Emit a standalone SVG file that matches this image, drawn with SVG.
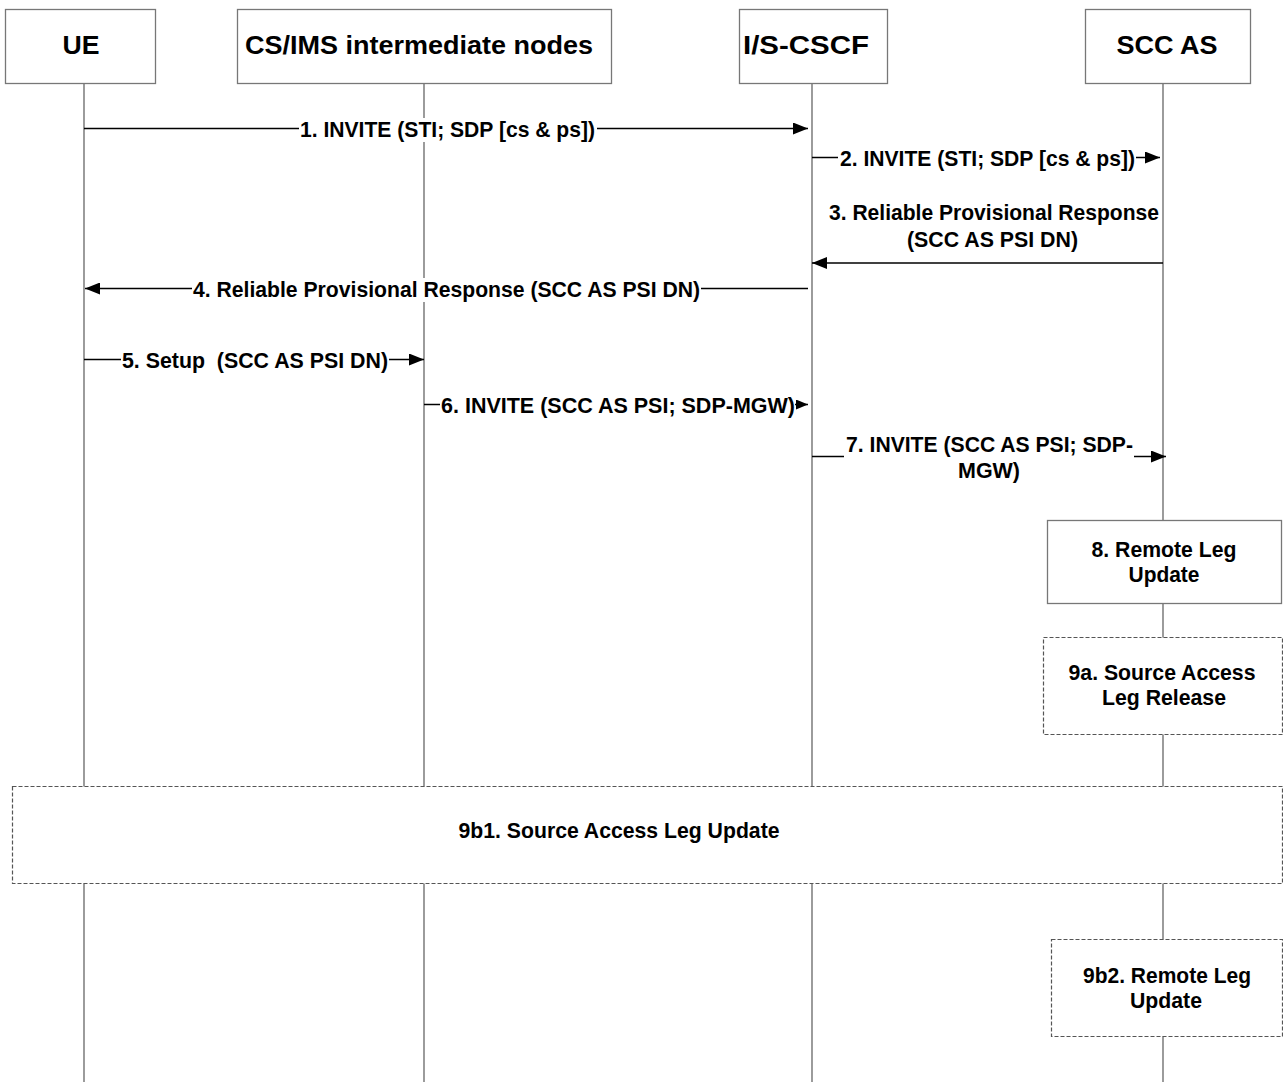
<svg xmlns="http://www.w3.org/2000/svg" width="1283" height="1082" viewBox="0 0 1283 1082">
<style>
.box{fill:#fff;stroke:#777;stroke-width:1.3}
.dbox{fill:#fff;stroke:#555;stroke-width:1.2;stroke-dasharray:4 2}
.life{stroke:#666;stroke-width:1.3;fill:none}
.msg{stroke:#000;stroke-width:1.5;fill:none}
.hd{font-family:"Liberation Sans",Arial,sans-serif;font-weight:bold;font-size:25px;fill:#000}
.t{font-family:"Liberation Sans",Arial,sans-serif;font-weight:bold;font-size:22px;fill:#000}
.bg{fill:#fff}
</style>
<defs>
<marker id="ah" viewBox="0 0 15 12" refX="15" refY="6" markerWidth="15" markerHeight="12" markerUnits="userSpaceOnUse" orient="auto">
<path d="M0,0 L15,6 L0,12 Z" fill="#000"/>
</marker>
<marker id="ahs" viewBox="0 0 12 10" refX="12" refY="5" markerWidth="12" markerHeight="10" markerUnits="userSpaceOnUse" orient="auto">
<path d="M0,0 L12,5 L0,10 Z" fill="#000"/>
</marker>
</defs>
<g id="lifelines">
<line class="life" x1="84" y1="83" x2="84" y2="1082" stroke="#333"/>
<line class="life" x1="424" y1="83" x2="424" y2="1082"/>
<line class="life" x1="812" y1="83" x2="812" y2="1082"/>
<line class="life" x1="1163" y1="83" x2="1163" y2="1082"/>
</g>
<g id="node-ue"><rect class="box" x="5.5" y="9.5" width="150" height="74"/><text class="hd" x="81" y="54" text-anchor="middle" textLength="37" lengthAdjust="spacingAndGlyphs">UE</text></g>
<g id="node-cs"><rect class="box" x="237.5" y="9.5" width="374" height="74"/><text class="hd" x="419" y="54" text-anchor="middle" textLength="348" lengthAdjust="spacingAndGlyphs">CS/IMS intermediate nodes</text></g>
<g id="node-cscf"><rect class="box" x="739.5" y="9.5" width="148" height="74"/><text class="hd" x="806" y="54" text-anchor="middle" textLength="126" lengthAdjust="spacingAndGlyphs">I/S-CSCF</text></g>
<g id="node-scc"><rect class="box" x="1085.5" y="9.5" width="165" height="74"/><text class="hd" x="1167" y="54" text-anchor="middle" textLength="101" lengthAdjust="spacingAndGlyphs">SCC AS</text></g>
<g id="label-bg">
<rect class="bg" x="299" y="118" width="298" height="24"/>
<rect class="bg" x="192" y="278" width="509" height="24"/>
</g>
<g id="connectors">
<line class="msg" x1="84" y1="128.5" x2="299" y2="128.5"/>
<line class="msg" x1="597" y1="128.5" x2="808" y2="128.5" marker-end="url(#ah)"/>
<line class="msg" x1="812" y1="157.5" x2="838" y2="157.5"/>
<line class="msg" x1="1136" y1="157.5" x2="1160" y2="157.5" marker-end="url(#ah)"/>
<line class="msg" x1="1163" y1="263" x2="812" y2="263" marker-end="url(#ah)"/>
<line class="msg" x1="808" y1="288.5" x2="701" y2="288.5"/>
<line class="msg" x1="192" y1="288.5" x2="85" y2="288.5" marker-end="url(#ah)"/>
<line class="msg" x1="84" y1="359.5" x2="121" y2="359.5"/>
<line class="msg" x1="389" y1="359.5" x2="424" y2="359.5" marker-end="url(#ah)"/>
<line class="msg" x1="424" y1="404.5" x2="440" y2="404.5"/>
<line class="msg" x1="795" y1="404.5" x2="808" y2="404.5" marker-end="url(#ahs)"/>
<line class="msg" x1="812" y1="456.5" x2="844" y2="456.5"/>
<line class="msg" x1="1134" y1="456.5" x2="1166" y2="456.5" marker-end="url(#ah)"/>
</g>
<g id="labels">
<text class="t" x="300" y="137" textLength="295" lengthAdjust="spacingAndGlyphs">1. INVITE (STI; SDP [cs &amp; ps])</text>
<text class="t" x="840" y="166" textLength="295" lengthAdjust="spacingAndGlyphs">2. INVITE (STI; SDP [cs &amp; ps])</text>
<text class="t" x="829" y="220" textLength="330" lengthAdjust="spacingAndGlyphs">3. Reliable Provisional Response</text>
<text class="t" x="907" y="247" textLength="171" lengthAdjust="spacingAndGlyphs">(SCC AS PSI DN)</text>
<text class="t" x="193" y="297" textLength="507" lengthAdjust="spacingAndGlyphs">4. Reliable Provisional Response (SCC AS PSI DN)</text>
<text class="t" x="122" y="368" textLength="266" lengthAdjust="spacingAndGlyphs" xml:space="preserve">5. Setup  (SCC AS PSI DN)</text>
<text class="t" x="441" y="413" textLength="354" lengthAdjust="spacingAndGlyphs">6. INVITE (SCC AS PSI; SDP-MGW)</text>
<text class="t" x="846" y="452" textLength="287" lengthAdjust="spacingAndGlyphs">7. INVITE (SCC AS PSI; SDP-</text>
<text class="t" x="958" y="478" textLength="62" lengthAdjust="spacingAndGlyphs">MGW)</text>
</g>
<g id="node-8"><rect class="box" x="1047.5" y="520.5" width="234" height="83"/>
<text class="t" x="1164" y="557" text-anchor="middle" textLength="145" lengthAdjust="spacingAndGlyphs">8. Remote Leg</text>
<text class="t" x="1164" y="582" text-anchor="middle" textLength="71" lengthAdjust="spacingAndGlyphs">Update</text></g>
<g id="node-9a"><rect class="dbox" x="1043.5" y="637.5" width="239" height="97"/>
<text class="t" x="1162" y="680" text-anchor="middle" textLength="187" lengthAdjust="spacingAndGlyphs">9a. Source Access</text>
<text class="t" x="1164" y="705" text-anchor="middle" textLength="124" lengthAdjust="spacingAndGlyphs">Leg Release</text></g>
<g id="node-9b1"><rect class="dbox" x="12.5" y="786.5" width="1270" height="97"/>
<text class="t" x="619" y="838" text-anchor="middle" textLength="321" lengthAdjust="spacingAndGlyphs">9b1. Source Access Leg Update</text></g>
<g id="node-9b2"><rect class="dbox" x="1051.5" y="939.5" width="231" height="97"/>
<text class="t" x="1167" y="983" text-anchor="middle" textLength="168" lengthAdjust="spacingAndGlyphs">9b2. Remote Leg</text>
<text class="t" x="1166" y="1008" text-anchor="middle" textLength="72" lengthAdjust="spacingAndGlyphs">Update</text></g>
</svg>
